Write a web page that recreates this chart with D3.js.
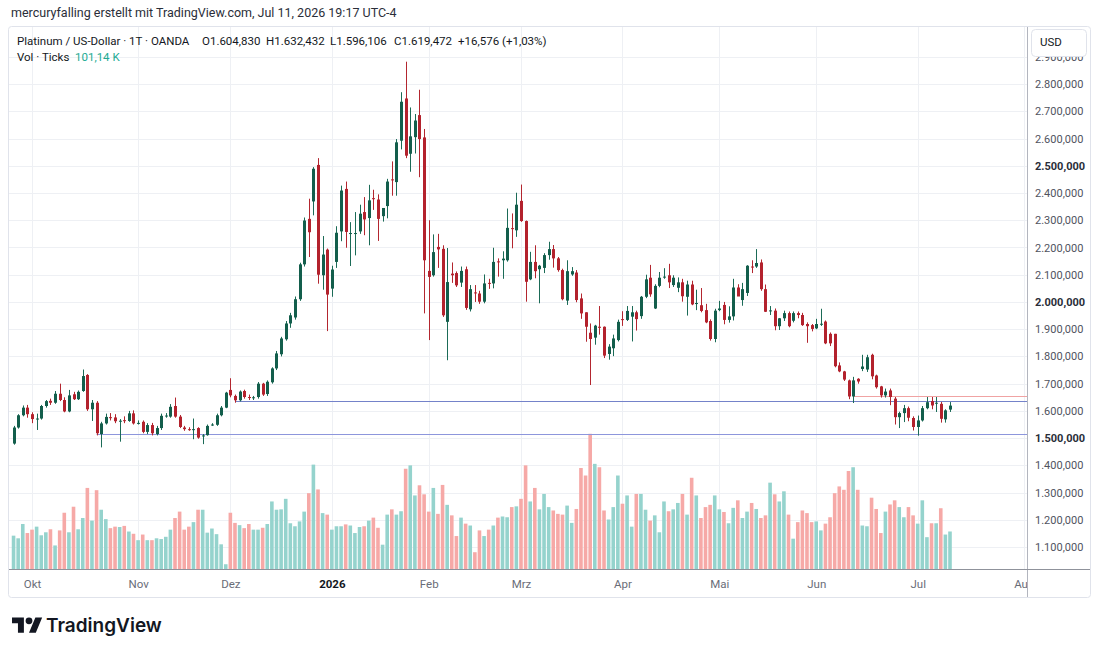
<!DOCTYPE html>
<html>
<head>
<meta charset="utf-8">
<script src="https://cdn.jsdelivr.net/npm/d3@7"></script>
<style>
  body { margin: 0; background: #fff; }
  svg { display: block; font-family: Roboto, "Noto Sans", sans-serif; }
</style>
</head>
<body>
<div class="main"></div>
<script>
// Daily OHLC, one entry per trading day (Platinum / USD, OANDA)
const opens = [1480,1539,1584,1612,1588,1570,1572,1618,1637,1630,1663,1640,1598,1661,1643,1673,1732,1606,1630,1515,
  1554,1577,1576,1562,1566,1563,1591,1555,1560,1523,1548,1515,1537,1582,1579,1618,1579,1539,1533,1531,
  1537,1508,1511,1549,1549,1584,1612,1677,1655,1639,1673,1651,1648,1651,1700,1662,1705,1756,1808,1863,
  1921,1943,2010,2138,2305,2369,2503,2098,2192,2049,2147,2259,2415,2251,2251,2259,2330,2308,2381,2376,
  2315,2352,2450,2440,2592,2747,2544,2605,2686,2604,2114,2098,2202,2195,1927,2104,2106,2071,2120,1973,
  2035,2031,2001,2070,2068,2149,2153,2153,2271,2263,2371,2297,2083,2147,2120,2125,2172,2194,2160,2117,
  2005,2101,2108,2013,1962,1887,1869,1909,1909,1809,1830,1860,1937,1934,1946,1962,1948,2019,2089,1976,
  2059,2090,2098,2062,2052,2072,2019,2064,1994,1988,1970,1930,1864,1970,1989,1934,1947,2053,2007,2033,
  2130,2130,2145,2047,1967,1968,1911,1940,1959,1931,1959,1952,1919,1915,1903,1918,1928,1883,1883,1767,
  1745,1712,1653,1718,1754,1752,1806,1730,1690,1657,1675,1645,1577,1592,1610,1574,1541,1565,1610,1636,
  1628,1626,1569,1604.83];
const highs = [1545,1588,1620,1622,1595,1590,1622,1640,1645,1673,1700,1650,1677,1670,1675,1752,1735,1640,1636,1560,
  1590,1592,1588,1570,1580,1600,1602,1565,1565,1555,1556,1545,1590,1592,1625,1649,1585,1545,1540,1572,
  1540,1515,1550,1555,1590,1618,1670,1720,1660,1675,1678,1660,1655,1706,1703,1712,1760,1820,1872,1930,
  1960,2020,2144,2310,2379,2495,2528,2242,2196,2133,2278,2427,2442,2293,2330,2357,2385,2430,2412,2395,
  2325,2452,2516,2598,2770,2882,2714,2690,2779,2635,2300,2248,2250,2208,2198,2145,2112,2130,2130,2062,
  2062,2041,2101,2085,2199,2160,2186,2343,2325,2401,2431,2299,2184,2208,2136,2179,2221,2209,2165,2122,
  2153,2128,2117,2031,1962,1921,1916,1985,1910,1845,1880,1935,1966,1985,1985,1968,2022,2100,2136,2065,
  2110,2124,2140,2098,2090,2085,2078,2078,2045,2051,1993,1936,1975,2004,2000,1984,2085,2065,2070,2135,
  2153,2194,2156,2064,1985,1976,1941,1968,1965,1965,1965,1960,1925,1919,1938,1975,1932,1888,1883,1778,
  1747,1715,1725,1720,1806,1806,1810,1733,1692,1682,1682,1651,1597,1622,1616,1580,1583,1618,1651,1651,
  1651,1633,1606,1632.43];
const lows = [1476,1535,1580,1575,1555,1530,1568,1612,1622,1626,1636,1595,1595,1640,1640,1670,1600,1563,1510,1466,
  1550,1565,1555,1487,1555,1560,1550,1550,1518,1515,1510,1510,1530,1575,1575,1575,1537,1527,1527,1496,
  1498,1478,1509,1545,1545,1580,1610,1650,1630,1635,1645,1640,1640,1645,1655,1655,1700,1750,1800,1858,
  1905,1935,2004,2130,2165,2318,2067,2045,1893,2019,2125,2223,2199,2132,2171,2250,2245,2208,2338,2224,
  2295,2307,2390,2390,2560,2528,2478,2545,2458,1958,1860,2093,2125,1945,1786,2070,2055,2055,1971,1965,
  2000,1993,1995,2048,2050,2093,2085,2148,2197,2239,2294,2001,2080,2087,1995,2106,2155,2126,2111,2006,
  1989,2096,1999,1938,1854,1695,1843,1880,1794,1788,1801,1855,1912,1930,1855,1895,1938,2014,2019,1974,
  2054,2085,2051,2055,2036,2001,1950,1988,1970,1962,1922,1858,1852,1966,1918,1924,1932,2047,1986,2022,
  2106,2125,2041,1963,1952,1896,1897,1930,1907,1925,1940,1912,1850,1892,1900,1912,1845,1838,1760,1742,
  1710,1643,1629,1700,1746,1743,1716,1682,1649,1649,1621,1550,1537,1559,1562,1528,1509,1561,1606,1606,
  1596,1557,1557,1596.11];
const closes = [1539,1584,1612,1588,1570,1572,1618,1636,1630,1663,1640,1598,1657,1643,1670,1728,1606,1630,1518,1554,
  1578,1576,1562,1564,1565,1591,1554,1556,1523,1548,1518,1537,1582,1583,1615,1579,1541,1533,1532,1533,
  1502,1510,1545,1550,1584,1612,1667,1657,1639,1671,1651,1649,1650,1700,1660,1707,1756,1811,1866,1921,
  1951,2010,2138,2299,2256,2489,2100,2174,2027,2119,2254,2409,2257,2253,2253,2324,2303,2373,2379,2305,
  2345,2442,2448,2586,2735,2537,2608,2666,2598,2153,2092,2183,2193,1951,2073,2098,2061,2114,1978,2047,
  2033,2001,2068,2068,2147,2147,2159,2272,2269,2357,2297,2074,2147,2113,2133,2172,2194,2160,2117,2010,
  2113,2113,2007,1958,1909,1864,1913,1905,1803,1836,1866,1927,1935,1967,1962,1937,2019,2083,2028,2059,
  2089,2093,2072,2089,2072,2021,2064,1991,1996,1967,1925,1864,1968,1976,1934,1947,2053,2020,2047,2133,
  2127,2143,2047,1964,1969,1911,1940,1959,1911,1959,1952,1915,1911,1901,1919,1920,1848,1848,1764,1745,
  1715,1653,1712,1708,1763,1797,1727,1687,1657,1671,1651,1577,1592,1610,1575,1541,1565,1610,1632,1620,
  1630,1571,1602,1619.47];
// tick volume, thousands
const volumes = [90,83,121,97,106,114,91,99,107,64,104,151,99,167,107,137,217,130,211,159,
  134,110,114,113,116,101,95,78,93,78,78,83,81,87,106,137,154,106,114,126,
  159,159,98,109,94,67,14,151,124,118,110,121,106,106,111,121,181,159,160,188,
  123,115,128,154,203,279,213,150,146,106,115,115,120,117,97,113,115,130,138,111,
  66,146,160,146,155,268,277,197,224,200,154,217,148,225,172,144,89,138,122,117,
  46,104,89,106,117,138,141,139,166,168,188,277,181,217,160,201,166,157,148,146,
  170,124,161,270,250,361,281,272,157,133,166,250,175,197,114,201,201,159,130,144,
  99,181,155,160,177,201,146,244,197,137,166,172,197,160,153,123,164,184,137,154,
  177,161,137,144,231,200,181,208,146,82,126,157,150,126,128,104,122,139,203,221,
  212,262,272,212,117,115,191,161,97,154,173,184,166,139,166,144,122,184,86,123,
  123,163,93,101.14];

const monthLabels = ["Okt", "Nov", "Dez", "2026", "Feb", "Mrz", "Apr", "Mai", "Jun", "Jul", "Aug"];
const monthIndex  = [4, 27, 47, 69, 90, 110, 132, 153, 174, 196, 219];

const priceTicks = [1100,1200,1300,1400,1500,1600,1700,1800,1900,2000,2100,2200,2300,2400,2500,2600,2700,2800,2900];
const boldTicks = [1500, 2000, 2500];

// horizontal levels drawn on the chart
const levelPrices = [1637, 1514, 1654];
const levelStart  = [48, 18, 182];
const levelColors = ["#7482c9", "#8d96dc", "#f0a3a3"];

const width = 1100, height = 653;

let svg = d3.select("div.main").append("svg")
  .attr("width", width)
  .attr("height", height);

// plot area
const pLeft = 9, pRight = 1027.5, pTop = 27, pBottom = 569.5;

let x = d3.scaleLinear().domain([0, 219]).range([13.55, 1023.8]);
let y = d3.scaleLinear().domain([1100, 2900]).range([547.1, 56.8]);
let yVol = d3.scaleLinear().domain([0, 400]).range([pBottom, pBottom - 400 / 2.66]);

const deLocale = d3.formatLocale({decimal: ",", thousands: ".", grouping: [3], currency: ["", ""]});
const fmtPrice = deLocale.format(",.3f");

let defs = svg.append("defs");
defs.append("clipPath").attr("id", "plot")
  .append("rect")
  .attr("x", pLeft).attr("y", pTop)
  .attr("width", pRight - pLeft).attr("height", pBottom - pTop);
defs.append("clipPath").attr("id", "timeclip")
  .append("rect").attr("x", 9).attr("y", 0).attr("width", 1018).attr("height", 28);

// header
svg.append("text")
  .text("mercuryfalling erstellt mit TradingView.com, Jul 11, 2026 19:17 UTC-4")
  .attr("x", 11).attr("y", 17)
  .attr("font-size", "12.5px")
  .attr("fill", "#2a2e39");

// frame
svg.append("rect")
  .attr("x", 8.5).attr("y", 26.5)
  .attr("width", 1082).attr("height", 571)
  .attr("rx", 3)
  .attr("fill", "none")
  .attr("stroke", "#e0e3eb");

// grid
let grid = svg.append("g").attr("clip-path", "url(#plot)");
grid.selectAll("line.h").data(priceTicks).enter().append("line")
  .attr("class", "h")
  .attr("x1", pLeft).attr("x2", pRight)
  .attr("y1", d => Math.round(y(d)) + 0.5)
  .attr("y2", d => Math.round(y(d)) + 0.5)
  .attr("stroke", "#eef0f4");
grid.selectAll("line.v").data(monthIndex).enter().append("line")
  .attr("class", "v")
  .attr("y1", pTop).attr("y2", pBottom)
  .attr("x1", d => Math.round(x(d)) + 0.5)
  .attr("x2", d => Math.round(x(d)) + 0.5)
  .attr("stroke", "#eef0f4");

let plot = svg.append("g").attr("clip-path", "url(#plot)");

let bars = d3.range(closes.length).map(function(i) {
  return {i: i, o: opens[i], h: highs[i], l: lows[i], c: closes[i], v: volumes[i], up: closes[i] >= opens[i]};
});

// volume
plot.selectAll("rect.vol").data(bars).enter().append("rect")
  .attr("class", "vol")
  .attr("x", d => x(d.i) - 1.8)
  .attr("width", 3.6)
  .attr("y", d => yVol(d.v))
  .attr("height", d => pBottom - yVol(d.v))
  .attr("fill", d => d.up ? "#95d3cd" : "#f6a9a7");

// level lines
plot.selectAll("line.level").data(levelPrices).enter().append("line")
  .attr("class", "level")
  .attr("x1", (d, k) => x(levelStart[k]))
  .attr("x2", pRight)
  .attr("y1", d => Math.round(y(d)) + 0.5)
  .attr("y2", d => Math.round(y(d)) + 0.5)
  .attr("stroke", (d, k) => levelColors[k])
  .attr("stroke-width", 1);

// candles
let candle = plot.selectAll("g.candle").data(bars).enter().append("g")
  .attr("class", "candle");

candle.append("line")
  .attr("x1", d => Math.round(x(d.i)) + 0.5)
  .attr("x2", d => Math.round(x(d.i)) + 0.5)
  .attr("y1", d => y(d.h))
  .attr("y2", d => y(d.l))
  .attr("stroke", d => d.up ? "#1b6b57" : "#b3262f");

candle.append("rect")
  .attr("x", d => Math.round(x(d.i)) - 1)
  .attr("width", 3)
  .attr("y", d => y(Math.max(d.o, d.c)))
  .attr("height", d => Math.max(1, Math.abs(y(d.o) - y(d.c))))
  .attr("fill", d => d.up ? "#135e4c" : "#b3222d");

// axes frame lines
svg.append("line")
  .attr("x1", 1027.5).attr("x2", 1027.5)
  .attr("y1", 27).attr("y2", 597)
  .attr("stroke", "#b2b5be");
svg.append("line")
  .attr("x1", 9).attr("x2", 1090)
  .attr("y1", 569.5).attr("y2", 569.5)
  .attr("stroke", "#8f929b");

// price axis
let yAxis = d3.axisRight(y)
  .tickValues(priceTicks)
  .tickFormat(fmtPrice)
  .tickSize(0)
  .tickPadding(0);
let yAxisG = svg.append("g")
  .attr("transform", "translate(1035,0)")
  .call(yAxis);
yAxisG.select(".domain").remove();
yAxisG.selectAll("text")
  .attr("font-family", "Roboto, sans-serif")
  .attr("font-size", "11px")
  .attr("fill", d => boldTicks.indexOf(d) >= 0 ? "#2a2e39" : "#50535e")
  .attr("font-weight", d => boldTicks.indexOf(d) >= 0 ? "bold" : "normal");

// currency box (covers the top of the 2.900 label)
svg.append("rect")
  .attr("x", 1031.5).attr("y", 29.5)
  .attr("width", 55).attr("height", 27)
  .attr("rx", 4)
  .attr("fill", "#fff")
  .attr("stroke", "#e0e3eb");
svg.append("text")
  .text("USD")
  .attr("x", 1040).attr("y", 46)
  .attr("font-size", "11.5px")
  .attr("fill", "#131722");

// time axis
let xAxis = d3.axisBottom(x)
  .tickValues(monthIndex)
  .tickFormat((d, k) => monthLabels[k])
  .tickSize(0)
  .tickPadding(10);
let xAxisG = svg.append("g")
  .attr("transform", "translate(0,569.5)")
  .call(xAxis);
xAxisG.attr("clip-path", "url(#timeclip)");
xAxisG.select(".domain").remove();
xAxisG.selectAll("text")
  .attr("font-family", "Roboto, sans-serif")
  .attr("font-size", "11.5px")
  .attr("fill", d => d === 69 ? "#131722" : "#6a6d78")
  .attr("font-weight", d => d === 69 ? "bold" : "normal");

// legend
let legend = svg.append("g").attr("font-size", "11.5px").attr("fill", "#131722");
legend.append("text").text("Platinum / US-Dollar · 1T · OANDA").attr("x", 17).attr("y", 45);
const ohlcText = ["O1.604,830", "H1.632,432", "L1.596,106", "C1.619,472", "+16,576 (+1,03%)"];
const ohlcX = [202, 266, 330, 394, 458];
legend.selectAll("text.ohlc").data(ohlcText).enter().append("text")
  .attr("class", "ohlc")
  .text(d => d)
  .attr("x", (d, k) => ohlcX[k]).attr("y", 45);
legend.append("text").text("Vol · Ticks").attr("x", 17).attr("y", 61);
legend.append("text").text("101,14 K").attr("x", 75).attr("y", 61).attr("fill", "#22ab94");

// logo
let logo = svg.append("g").attr("transform", "translate(12,614) scale(0.85)").attr("fill", "#131722");
logo.append("path").attr("d", "M14 22H7V11H0V4h14v18zM28 22h-8l7.5-18h8L28 22z");
logo.append("circle").attr("cx", 20).attr("cy", 8).attr("r", 4);
svg.append("text")
  .text("TradingView")
  .attr("x", 46).attr("y", 632)
  .attr("font-family", "Inter, Roboto, sans-serif")
  .attr("font-size", "19px")
  .attr("font-weight", 600)
  .attr("fill", "#131722");
</script>
</body>
</html>
